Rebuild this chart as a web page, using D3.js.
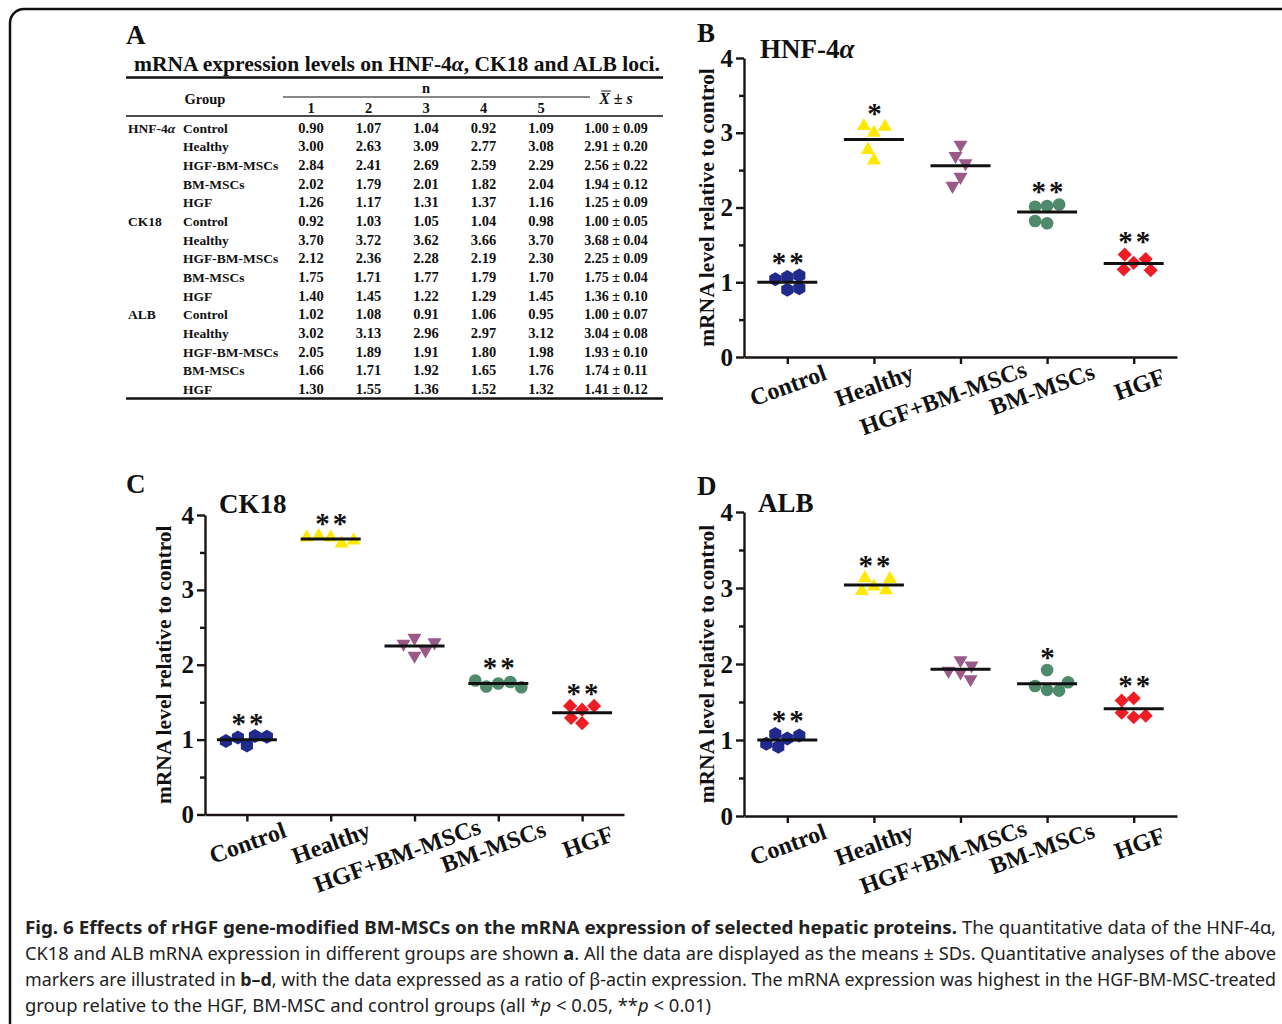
<!DOCTYPE html>
<html>
<head>
<meta charset="utf-8">
<script src="https://cdn.jsdelivr.net/npm/d3@7"></script>
<style>
  body { margin: 0; background: #fff; }
  svg { display: block; }
  .serif, .serif text { font-family: "Liberation Serif", "Times New Roman", serif; font-weight: bold; }
</style>
</head>
<body>
<div id="chart"></div>
<script>
// groups on the plots and in the table
const groups = ["Control", "Healthy", "HGF+BM-MSCs", "BM-MSCs", "HGF"];
const tableGroups = ["Control", "Healthy", "HGF-BM-MSCs", "BM-MSCs", "HGF"];
const genes = ["HNF-4α", "CK18", "ALB"];
const colLabels = [1, 2, 3, 4, 5];

// five replicates per group (table A)
const hnf4a = [
    [0.90, 1.07, 1.04, 0.92, 1.09],
    [3.00, 2.63, 3.09, 2.77, 3.08],
    [2.84, 2.41, 2.69, 2.59, 2.29],
    [2.02, 1.79, 2.01, 1.82, 2.04],
    [1.26, 1.17, 1.31, 1.37, 1.16],
];
const hnf4aMean = [1.00, 2.91, 2.56, 1.94, 1.25];
const hnf4aSd = [0.09, 0.20, 0.22, 0.12, 0.09];
const hnf4aSig = ["**", "*", "", "**", "**"];

const ck18 = [
    [0.92, 1.03, 1.05, 1.04, 0.98],
    [3.70, 3.72, 3.62, 3.66, 3.70],
    [2.12, 2.36, 2.28, 2.19, 2.30],
    [1.75, 1.71, 1.77, 1.79, 1.70],
    [1.40, 1.45, 1.22, 1.29, 1.45],
];
const ck18Mean = [1.00, 3.68, 2.25, 1.75, 1.36];
const ck18Sd = [0.05, 0.04, 0.09, 0.04, 0.10];
const ck18Sig = ["**", "**", "", "**", "**"];

const alb = [
    [1.02, 1.08, 0.91, 1.06, 0.95],
    [3.02, 3.13, 2.96, 2.97, 3.12],
    [2.05, 1.89, 1.91, 1.80, 1.98],
    [1.66, 1.71, 1.92, 1.65, 1.76],
    [1.30, 1.55, 1.36, 1.52, 1.32],
];
const albMean = [1.00, 3.04, 1.93, 1.74, 1.41];
const albSd = [0.07, 0.08, 0.10, 0.11, 0.12];
const albSig = ["**", "**", "", "*", "**"];

const yTicks = [0, 1, 2, 3, 4];
const yMinor = [0.5, 1.5, 2.5, 3.5];

const colors = ["#1f2a8c", "#ffe900", "#9a5a88", "#4e8a6b", "#ee1c24"];
const shapes = ["hexagon", "triangle", "triangleDown", "circle", "diamond"];

const SERIF = '"Liberation Serif", "Times New Roman", serif';
const W = 1282, H = 1024;
const svg = d3.select("#chart").append("svg")
    .attr("width", W).attr("height", H)
    .attr("viewBox", `0 0 ${W} ${H}`);

svg.append("rect").attr("width", W).attr("height", H).attr("fill", "#fff");

// outer frame (runs off the page on the right and bottom)
svg.append("rect")
    .attr("x", 10).attr("y", 9)
    .attr("width", 1320).attr("height", 1060)
    .attr("rx", 14)
    .attr("fill", "none")
    .attr("stroke", "#111")
    .attr("stroke-width", 2.5);

// ---------- panel A: table ----------
function drawTable() {
    const g = svg.append("g").attr("class", "serif").attr("fill", "#111");
    g.append("text").attr("x", 126).attr("y", 44).attr("font-size", 27).text("A");

    g.append("text")
        .attr("x", 134).attr("y", 71)
        .attr("font-size", 21.5)
        .attr("textLength", 526).attr("lengthAdjust", "spacingAndGlyphs")
        .call(t => {
            t.append("tspan").text("mRNA expression levels on HNF-4");
            t.append("tspan").attr("font-style", "italic").text("α");
            t.append("tspan").text(", CK18 and ALB loci.");
        });

    const rule = (y, x0, x1, w) => g.append("line")
        .attr("x1", x0).attr("x2", x1).attr("y1", y).attr("y2", y)
        .attr("stroke", "#111").attr("stroke-width", w);
    rule(77.5, 126, 663, 2.6);
    rule(97, 283, 590, 1);
    rule(116, 126, 663, 1.3);
    rule(398.5, 126, 663, 2.6);

    const col = d3.scalePoint().domain(colLabels).range([311, 541]);
    const meanX = 616;

    g.append("text").attr("x", 205).attr("y", 104).attr("font-size", 14.5)
        .attr("text-anchor", "middle").text("Group");
    g.append("text").attr("x", 426).attr("y", 93).attr("font-size", 14.5)
        .attr("text-anchor", "middle").text("n");
    g.selectAll(".colhead").data(colLabels).join("text")
        .attr("x", d => col(d)).attr("y", 113).attr("font-size", 14.5)
        .attr("text-anchor", "middle").text(d => d);

    const ms = g.append("text").attr("x", meanX).attr("y", 104).attr("font-size", 16)
        .attr("text-anchor", "middle").attr("font-weight", "normal");
    ms.append("tspan").attr("font-style", "italic").text("X");
    ms.append("tspan").text(" ± ");
    ms.append("tspan").attr("font-style", "italic").text("s");
    const ext = ms.node().getExtentOfChar(0);
    g.append("line")
        .attr("x1", ext.x + 2).attr("x2", ext.x + ext.width + 1)
        .attr("y1", ext.y + 1).attr("y2", ext.y + 1)
        .attr("stroke", "#111").attr("stroke-width", 1);

    const sets = [[hnf4a, hnf4aMean, hnf4aSd], [ck18, ck18Mean, ck18Sd], [alb, albMean, albSd]];
    const rows = [];
    sets.forEach(([vals, means, sds], gi) => {
        vals.forEach((v, k) => rows.push({ gene: k === 0 ? genes[gi] : "", group: tableGroups[k], vals: v, mean: means[k], sd: sds[k] }));
    });
    const row = d3.scaleLinear().domain([0, rows.length - 1]).range([132.5, 394]);

    const rg = g.selectAll(".row").data(rows).join("g")
        .attr("transform", (d, i) => `translate(0,${row(i)})`)
        .attr("font-size", 13.5);
    rg.append("text").attr("x", 128).each(function (d) {
        const t = d3.select(this);
        if (d.gene === "HNF-4α") {
            t.append("tspan").text("HNF-4");
            t.append("tspan").attr("font-style", "italic").text("α");
        } else t.text(d.gene);
    });
    rg.append("text").attr("x", 183).text(d => d.group);
    rg.selectAll(".v").data(d => d.vals).join("text")
        .attr("x", (d, i) => col(colLabels[i])).attr("text-anchor", "middle")
        .attr("font-size", 14.5)
        .text(d => d.toFixed(2));
    rg.append("text").attr("x", meanX).attr("text-anchor", "middle")
        .attr("font-size", 14)
        .text(d => `${d.mean.toFixed(2)} ± ${d.sd.toFixed(2)}`);
}

// ---------- scatter panels ----------
function symbolPath(shape) {
    if (shape === "hexagon") {
        const r = 7;
        const pts = d3.range(6).map(i => {
            const a = Math.PI / 3 * i + Math.PI / 6;
            return [r * Math.cos(a), r * Math.sin(a)];
        });
        return d3.line()(pts) + "Z";
    }
    if (shape === "triangle") return d3.symbol(d3.symbolTriangle, 85)();
    if (shape === "triangleDown") return d3.symbol(d3.symbolTriangle, 85)();
    if (shape === "circle") return d3.symbol(d3.symbolCircle, 125)();
    return d3.symbol(d3.symbolSquare, 100)();
}
function symbolRotate(shape) {
    if (shape === "triangleDown") return 180;
    if (shape === "diamond") return 45;
    return 0;
}

// spread overlapping points sideways, keeping them as close to the centre as possible
function dodge(vals, y, minDist) {
    const placed = [];
    return vals.map(v => {
        const py = y(v);
        let best = 0;
        for (let k = 0; k <= 60; k++) {
            const cands = k === 0 ? [0] : [-k, k];
            const ok = cands.find(dx => placed.every(p => Math.hypot(p.dx - dx, p.py - py) >= minDist));
            if (ok !== undefined) { best = ok; break; }
        }
        placed.push({ dx: best, py });
        return best;
    });
}

function drawPanel(cfg) {
    const g = svg.append("g").attr("class", "serif").attr("fill", "#111");
    const x = d3.scaleLinear().domain([0.5, 5.5]).range(cfg.xRange);
    const y = d3.scaleLinear().domain([0, 4]).range(cfg.yRange);
    const angle = 20;

    g.append("text").attr("x", cfg.letter[1]).attr("y", cfg.letter[2])
        .attr("font-size", 27).text(cfg.letter[0]);
    const title = g.append("text").attr("x", cfg.titlePos[0]).attr("y", cfg.titlePos[1])
        .attr("font-size", 27);
    if (cfg.title === "HNF-4α") {
        title.append("tspan").text("HNF-4");
        title.append("tspan").attr("font-style", "italic").text("α");
    } else title.text(cfg.title);

    // y axis
    const ya = g.append("g").attr("transform", `translate(${cfg.xRange[0]},0)`)
        .call(d3.axisLeft(y).tickValues(yTicks).tickSize(8).tickSizeOuter(0).tickPadding(3)
            .tickFormat(d3.format("d")));
    g.append("g").attr("transform", `translate(${cfg.xRange[0]},0)`)
        .call(d3.axisLeft(y).tickValues(yMinor).tickSize(5).tickFormat(""))
        .call(a => a.select(".domain").remove());
    ya.attr("font-family", SERIF).attr("font-size", 25);

    // x axis
    const xa = g.append("g").attr("transform", `translate(0,${cfg.yRange[0]})`)
        .call(d3.axisBottom(x).tickValues([1, 2, 3, 4, 5]).tickSize(7).tickSizeOuter(0)
            .tickFormat(d => groups[d - 1]));
    xa.attr("font-family", SERIF).attr("font-size", 24);
    xa.selectAll("text")
        .attr("text-anchor", "middle")
        .attr("y", 0).attr("dy", "0.35em")
        .attr("transform", function () {
            // longer labels sit lower and slide back along their slant
            const w = this.getComputedTextLength();
            const s = -0.2 * (w - 80);
            const a = angle * Math.PI / 180;
            const dx = s * Math.cos(a);
            const dy = 28 + 0.1 * Math.max(0, w - 80) - s * Math.sin(a) * 0.5;
            return `translate(${dx},${dy}) rotate(${-angle})`;
        });

    g.selectAll(".domain, .tick line").attr("stroke", "#1a1512").attr("stroke-width", 2.4);
    g.selectAll(".tick text").attr("fill", "#111");

    // y axis title
    g.append("text")
        .attr("transform", `translate(${cfg.yLabelX},${(cfg.yRange[0] + cfg.yRange[1]) / 2}) rotate(-90)`)
        .attr("text-anchor", "middle").attr("dy", "0.35em")
        .attr("font-size", 21.5)
        .text("mRNA level relative to control");

    cfg.values.forEach((vals, gi) => {
        const offs = dodge(vals, y, 12);
        const cx = x(gi + 1);
        g.append("g").selectAll("path").data(vals).join("path")
            .attr("d", symbolPath(shapes[gi]))
            .attr("transform", (d, i) => `translate(${cx + offs[i]},${y(d)}) rotate(${symbolRotate(shapes[gi])})`)
            .attr("fill", colors[gi]);

        g.append("line")
            .attr("x1", cx - 30).attr("x2", cx + 30)
            .attr("y1", y(cfg.means[gi])).attr("y2", y(cfg.means[gi]))
            .attr("stroke", "#111").attr("stroke-width", 3);

        if (cfg.sig[gi]) {
            g.append("text")
                .attr("x", cx + 2).attr("y", y(d3.max(vals) + 0.23) + 14)
                .attr("text-anchor", "middle")
                .attr("font-size", 29).attr("font-weight", "normal")
                .attr("letter-spacing", 3)
                .text(cfg.sig[gi]);
        }
    });
}

// ---------- caption ----------
function drawCaption() {
    const g = svg.append("g").attr("font-family", "'Noto Sans', 'Open Sans', sans-serif")
        .attr("font-size", 18).attr("fill", "#222");

    g.append("text").attr("x", 25).attr("y", 934).attr("font-weight", "bold")
        .attr("textLength", 932).attr("lengthAdjust", "spacingAndGlyphs")
        .text("Fig. 6 Effects of rHGF gene-modified BM-MSCs on the mRNA expression of selected hepatic proteins.");
    g.append("text").attr("x", 962).attr("y", 934)
        .attr("textLength", 314).attr("lengthAdjust", "spacingAndGlyphs")
        .text("The quantitative data of the HNF-4α,");

    const line = (y, len, parts) => {
        const t = g.append("text").attr("x", 25).attr("y", y)
            .attr("textLength", len).attr("lengthAdjust", "spacingAndGlyphs");
        parts.forEach(([s, style]) => {
            const ts = t.append("tspan").text(s);
            if (style === "b") ts.attr("font-weight", "bold");
            if (style === "i") ts.attr("font-style", "italic");
        });
    };
    line(960, 1251, [
        ["CK18 and ALB mRNA expression in different groups are shown "], ["a", "b"],
        [". All the data are displayed as the means ± SDs. Quantitative analyses of the above"]]);
    line(986, 1251, [
        ["markers are illustrated in "], ["b", "b"], ["–", "b"], ["d", "b"],
        [", with the data expressed as a ratio of β-actin expression. The mRNA expression was highest in the HGF-BM-MSC-treated"]]);
    line(1012, 686, [
        ["group relative to the HGF, BM-MSC and control groups (all *"], ["p", "i"],
        [" < 0.05, **"], ["p", "i"], [" < 0.01)"]]);
}

drawTable();
drawPanel({
    letter: ["B", 697, 42], title: "HNF-4α", titlePos: [760, 58],
    xRange: [744, 1177], yRange: [357, 58], yLabelX: 706,
    values: hnf4a, means: hnf4aMean, sig: hnf4aSig,
});
drawPanel({
    letter: ["C", 126, 493], title: "CK18", titlePos: [219, 513],
    xRange: [205, 624], yRange: [814.5, 515], yLabelX: 163,
    values: ck18, means: ck18Mean, sig: ck18Sig,
});
drawPanel({
    letter: ["D", 697, 495], title: "ALB", titlePos: [758, 512],
    xRange: [744, 1177], yRange: [816, 512], yLabelX: 706,
    values: alb, means: albMean, sig: albSig,
});
drawCaption();
</script>
</body>
</html>
